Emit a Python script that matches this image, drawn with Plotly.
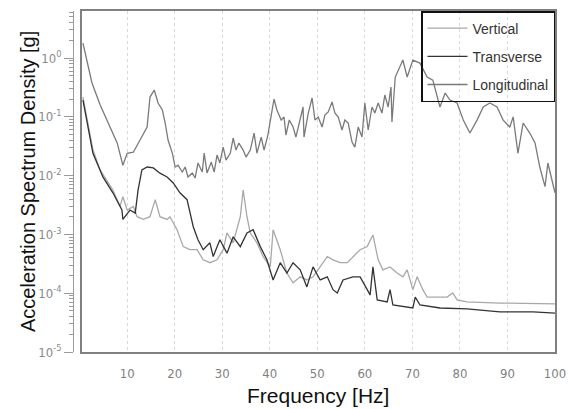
import plotly.graph_objects as go

# ---- data ----
freq_long = [0.7, 2.6, 4.3, 6.4, 7.9, 9.1, 10.0, 11.3, 12.7, 14.2,
             14.8, 15.7, 16.5, 17.4, 18.0, 18.6, 19.5, 20.1, 20.7, 21.6, 22.2, 22.8, 23.7, 24.3, 24.9,
             25.8, 26.2, 26.8, 27.7, 28.3, 28.9, 29.5, 30.2, 30.8, 31.7, 32.3, 32.9, 33.5, 34.4, 35.0,
             35.9, 36.7, 37.3, 38.2, 38.8, 39.6, 40.5, 40.9, 41.5, 42.4, 43.0, 43.4, 44.1, 44.9, 45.5,
             46.2, 47.0, 47.2, 48.1, 48.9, 49.5, 50.2, 51.0, 51.6, 52.3, 53.1, 53.7, 54.4, 55.2, 55.8,
             56.5, 57.3, 57.9, 58.6, 59.4, 60.0, 60.7, 61.5, 62.1, 62.8, 63.6, 64.2, 64.9, 65.5, 65.7,
             66.4, 67.0, 68.0, 68.9,
             70.1, 71.6, 73.1, 74.3, 75.8, 76.9, 77.9, 79.4, 80.7, 82.1, 83.6, 84.9, 86.3, 87.8,
             89.1, 90.5, 91.2, 92.2, 93.3, 94.7, 95.8, 96.8, 97.9, 98.5, 99.4, 100.0]
psd_long = [1.8, 0.376, 0.16, 0.065, 0.036, 0.015, 0.024, 0.025, 0.041, 0.067,
            0.217, 0.286, 0.172, 0.131, 0.0785, 0.0403, 0.0242, 0.014, 0.0151, 0.0115, 0.014,
            0.00947, 0.0111, 0.0091, 0.0164, 0.0115, 0.0242, 0.0111, 0.017, 0.0115, 0.0224, 0.0164,
            0.0306, 0.0184, 0.0242, 0.0436, 0.0272, 0.0358, 0.0272, 0.0207, 0.0272, 0.053, 0.0242,
            0.0453, 0.0272, 0.049, 0.131, 0.201, 0.131, 0.0883, 0.0993, 0.049, 0.0883, 0.0671,
            0.0453, 0.0785, 0.147, 0.0453, 0.116, 0.209, 0.0883, 0.0993, 0.0671, 0.107, 0.121,
            0.179, 0.116, 0.0993, 0.0597, 0.0883, 0.0785, 0.0373, 0.0306, 0.0671, 0.0453, 0.172,
            0.0597, 0.147, 0.116, 0.172, 0.116, 0.235, 0.147, 0.321, 0.0816, 0.475, 0.625, 0.925,
            0.475,
            0.92, 0.82, 0.475, 0.42, 0.147, 0.254, 0.193, 0.172, 0.088, 0.053, 0.088, 0.147, 0.172,
            0.147, 0.088, 0.067, 0.10, 0.024, 0.0785, 0.053, 0.036, 0.014, 0.0065, 0.0164, 0.0085,
            0.0051]

freq_trans = [0.7, 1.6, 2.8, 4.9, 7.0, 8.9, 9.1, 10.6, 11.7, 12.3, 13.1, 14.2, 15.5, 16.9, 18.4, 19.7,
              21.1, 22.6, 23.9, 24.9, 26.0, 27.4, 28.1, 29.5, 31.0, 32.3, 33.8, 35.2, 36.5, 38.0, 39.4,
              40.7, 42.2, 43.6, 44.9, 46.4, 47.8, 49.1, 50.6, 52.1, 53.3, 54.2, 55.4, 57.5, 59.0, 60.5,
              61.1, 61.7, 62.6, 64.7, 65.3, 65.9, 70.1, 70.6, 71.6, 75.8, 81.5, 88.4, 95.4, 100.0]
psd_trans = [0.193, 0.0785, 0.024, 0.0095, 0.0051, 0.0026, 0.0018, 0.0026, 0.0023, 0.0057, 0.0125,
             0.014, 0.0135, 0.011, 0.0095, 0.0075, 0.0051, 0.0039, 0.00135, 0.00081, 0.00055, 0.00072,
             0.00042, 0.00081, 0.00048, 0.00091, 0.00062, 0.00106, 0.0012, 0.00062, 0.00037, 0.000168,
             0.00033, 0.00022, 0.00033, 0.00025, 0.000128, 0.00028, 0.000168, 0.00019, 0.000115,
             0.000101, 0.000168, 0.00019, 0.00019, 0.000115, 0.000093, 0.00028, 0.000077, 0.000071,
             0.000115, 0.000063, 0.000056, 0.000086, 0.000063, 0.000056, 0.000054, 0.000048,
             0.000048, 0.000046]

freq_vert = [0.7, 1.6, 2.8, 4.3, 7.0, 8.5, 9.1, 10.0, 11.3, 12.1, 13.4, 14.8, 15.9, 16.9, 18.4, 19.0,
             20.5, 21.8, 23.2, 24.7, 26.0, 27.4, 28.9, 30.2, 31.0, 32.3, 33.8, 34.4, 35.2, 35.9, 37.3,
             38.6, 40.1, 40.7, 42.2, 43.6, 44.9, 46.4, 47.8, 49.1, 52.1, 53.3, 54.8, 56.3, 57.5, 59.0,
             60.5, 61.7, 62.8, 63.8, 65.3, 66.8, 68.0, 68.9, 70.1, 71.0, 72.2, 73.1, 77.3, 78.5, 79.4,
             81.5, 88.4, 95.4, 100.0]
psd_vert = [0.217, 0.088, 0.0275, 0.0125, 0.0057, 0.0030, 0.0044, 0.0026, 0.0030, 0.0020, 0.0018,
            0.0020, 0.0039, 0.0020, 0.0018, 0.0020, 0.0012, 0.00062, 0.00055, 0.00055, 0.00037,
            0.00033, 0.00037, 0.00055, 0.00106, 0.00072, 0.0020, 0.0057, 0.0020, 0.00106, 0.00072,
            0.00042, 0.00028, 0.0012, 0.00055, 0.00022, 0.00015, 0.00019, 0.000168, 0.00019, 0.00042,
            0.00037, 0.00033, 0.00033, 0.00042, 0.00055, 0.00062, 0.00098, 0.00037, 0.00025, 0.00028,
            0.00022, 0.00019, 0.00025, 0.000115, 0.00019, 0.000115, 0.000086, 0.000086, 0.000101,
            0.000077, 0.000071, 0.000068, 0.000066, 0.000066]

x_ticks = [10, 20, 30, 40, 50, 60, 70, 80, 90, 100]
y_tick_vals = [1e-5, 1e-4, 1e-3, 1e-2, 1e-1, 1]
y_tick_text = ["10<sup>-5</sup>", "10<sup>-4</sup>", "10<sup>-3</sup>", "10<sup>-2</sup>",
               "10<sup>-1</sup>", "10<sup>0</sup>"]

# ---- figure (page body margin removed, so figure pixels == page pixels) ----
W, H = 568, 409
frame_l, frame_r, frame_t, frame_b = 82, 555, 11, 352
ML = 60
MR = W - frame_r
MT = frame_t
MB = H - frame_b
PW = W - ML - MR
PH = H - MT - MB
axis_line_x = 73

narrow = "Liberation Sans Narrow, Arial Narrow, DejaVu Sans Condensed, sans-serif"

fig = go.Figure()
fig.add_trace(go.Scatter(x=freq_vert, y=psd_vert, name="Vertical", mode="lines",
                         line=dict(color="#a8a8a8", width=1.3), legendgroup="a"))
fig.add_trace(go.Scatter(x=freq_trans, y=psd_trans, name="Transverse", mode="lines",
                         line=dict(color="#333333", width=1.3), legendgroup="b"))
fig.add_trace(go.Scatter(x=freq_long, y=psd_long, name="Longitudinal", mode="lines",
                         line=dict(color="#7a7a7a", width=1.3), legendgroup="c"))
fig.add_trace(go.Scatter(x=[], y=[], yaxis="y2", showlegend=False, hoverinfo="skip"))

yrange = [-5, 0.8]
fig.update_layout(
    width=W, height=H,
    margin=dict(l=ML, r=MR, t=MT, b=MB, autoexpand=False),
    paper_bgcolor="white", plot_bgcolor="white",
    font=dict(family="Liberation Sans, Arial, sans-serif", color="#222"),
    xaxis=dict(domain=[(frame_l - ML) / PW, 1], range=[0.5, 100], tickvals=x_ticks,
               showline=True, mirror=True, linecolor="#808080", linewidth=2,
               showgrid=True, gridcolor="#d8d8d8", griddash="dot", gridwidth=1,
               ticks="", ticklabelstandoff=8, automargin=False,
               tickfont=dict(family=narrow, size=13, color="#808080"), zeroline=False),
    yaxis=dict(type="log", range=yrange, showline=True, mirror=True, linecolor="#808080",
               linewidth=2, showgrid=False, showticklabels=False, ticks="", zeroline=False,
               automargin=False),
    yaxis2=dict(type="log", range=yrange, overlaying="y", anchor="free",
                position=(axis_line_x - ML) / PW, side="left", automargin=False,
                showline=True, linecolor="#9a9a9a", linewidth=1,
                tickmode="array", tickvals=y_tick_vals, ticktext=y_tick_text,
                ticks="outside", ticklen=9, tickcolor="#9a9a9a",
                minor=dict(ticks="outside", ticklen=4, tickcolor="#9a9a9a", dtick="D1",
                           showgrid=False),
                showgrid=False, zeroline=False,
                tickfont=dict(family=narrow, size=13, color="#8a8a8a")),
    legend=dict(x=1, y=1, xanchor="right", yanchor="top", bgcolor="rgba(0,0,0,0)",
                bordercolor="#111", borderwidth=1.5, tracegroupgap=7,
                font=dict(family="Liberation Sans, Arial, sans-serif", size=14, color="#333"),
                itemwidth=40),
    showlegend=True,
)

fig.add_annotation(text="Frequency [Hz]", xref="paper", yref="paper",
                   x=(318 - ML) / PW, y=(MT + PH - 396) / PH, showarrow=False,
                   font=dict(size=21, color="#111"), xanchor="center", yanchor="middle")
fig.add_annotation(text="Acceleration Spectrum Density [g]", xref="paper", yref="paper",
                   x=(28 - ML) / PW, y=(MT + PH - 182) / PH, showarrow=False,
                   textangle=-90, font=dict(size=20, color="#111"),
                   xanchor="center", yanchor="middle")

fig.write_html("out.html", config={"displayModeBar": False},
               post_script="document.body.style.margin='0px';")
